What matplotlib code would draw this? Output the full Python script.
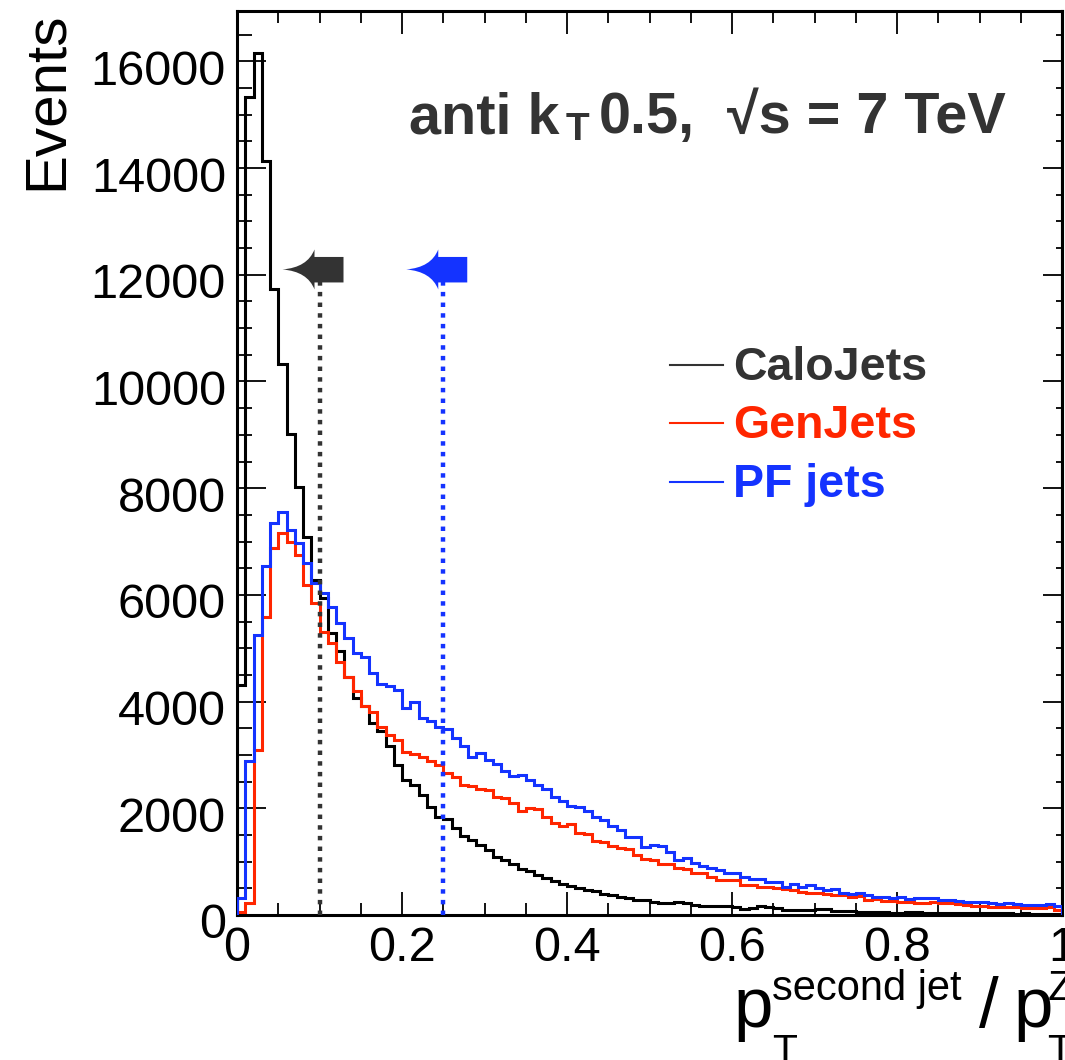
#!/usr/bin/env python3
from __future__ import annotations

import matplotlib

matplotlib.use("Agg")

import matplotlib.pyplot as plt
import numpy as np
from matplotlib.lines import Line2D
from matplotlib.patches import PathPatch
from matplotlib.path import Path
from matplotlib.ticker import MultipleLocator
from matplotlib.transforms import ScaledTranslation

W, H, DPI = 1065, 1060, 100
FONT = ["Liberation Sans", "DejaVu Sans"]

# 100 bins of 0.01 in pT(second jet) / pT(Z)
X_EDGES = np.linspace(0.0, 1.0, 101)

CALO = [
    4310, 15340, 16150, 14130, 11740, 10320, 9010, 8030, 7090, 6280,
    5940, 5290, 4940, 4470, 4060, 3910, 3590, 3440, 3160, 2810,
    2530, 2440, 2250, 2030, 1840, 1800, 1640, 1490, 1400, 1310,
    1210, 1080, 1040, 960, 860, 830, 750, 690, 640, 580,
    540, 500, 460, 450, 390, 375, 330, 310, 280, 290,
    250, 230, 230, 250, 220, 190, 160, 160, 170, 170,
    155, 105, 125, 165, 155, 125, 95, 95, 95, 95,
    105, 105, 80, 80, 80, 65, 65, 65, 60, 45,
    45, 50, 50, 45, 40, 45, 40, 35, 35, 40,
    30, 30, 35, 30, 25, 30, 25, 25, 20, 20,
]
GEN = [
    50, 220, 3090, 5580, 6880, 7160, 7000, 6750, 6190, 5840,
    5310, 5090, 4750, 4470, 4190, 3910, 3810, 3530, 3380, 3280,
    3060, 3020, 2970, 2880, 2810, 2660, 2590, 2430, 2420, 2360,
    2350, 2210, 2200, 2090, 1940, 2000, 1990, 1840, 1720, 1660,
    1710, 1530, 1520, 1380, 1370, 1290, 1250, 1240, 1130, 1050,
    1040, 960, 950, 880, 870, 780, 780, 710, 660, 650,
    650, 570, 560, 530, 520, 515, 480, 470, 440, 410,
    405, 395, 375, 370, 345, 355, 280, 295, 270, 265,
    250, 250, 230, 230, 250, 230, 220, 205, 190, 175,
    175, 155, 145, 155, 145, 140, 135, 135, 155, 95,
]
PF = [
    320, 2880, 5250, 6540, 7340, 7550, 7210, 6970, 6590, 6220,
    6030, 5770, 5480, 5190, 4910, 4840, 4530, 4330, 4290, 4220,
    3880, 4000, 3690, 3630, 3520, 3480, 3320, 3160, 2970, 3040,
    2910, 2830, 2690, 2610, 2620, 2530, 2440, 2360, 2220, 2140,
    2040, 2020, 1940, 1840, 1790, 1660, 1590, 1470, 1460, 1280,
    1310, 1290, 1190, 1040, 1060, 970, 920, 890, 840, 780,
    780, 720, 670, 670, 625, 625, 530, 580, 530, 560,
    500, 470, 480, 420, 395, 420, 375, 345, 330, 315,
    340, 295, 315, 310, 310, 280, 280, 265, 250, 240,
    235, 220, 205, 220, 205, 190, 185, 190, 210, 160,
]

SERIES = ["CaloJets", "GenJets", "PF jets"]
LINE_COLORS = ["#000000", "#ff2600", "#1433ff"]
TEXT_COLORS = ["#333333", "#ff2600", "#1433ff"]

# cut values (CaloJets, PF jets) marked by dotted lines and arrows
CUTS = [0.1, 0.25]
CUT_COLORS = ["#333333", "#1433ff"]
CUT_ARROW_Y = 12100

Y_MAX = 16950
Y_TICKS = list(range(0, 16001, 2000))
X_TICKS = [0, 0.2, 0.4, 0.6, 0.8, 1.0]
X_TICK_LABELS = ["0", "0.2", "0.4", "0.6", "0.8", "1"]


def px(x: float, y: float) -> tuple[float, float]:
    return x / W, 1 - y / H


def main() -> None:
    plt.rcParams["font.family"] = FONT
    plt.rcParams["axes.linewidth"] = 2.2
    fig = plt.figure(figsize=(W / DPI, H / DPI), dpi=DPI)
    left, bottom = px(237, 915)
    ax = fig.add_axes([left, bottom, 825 / W, (915 - 10.7) / H])

    for values, color in zip([CALO, GEN, PF], LINE_COLORS):
        ax.stairs(values, X_EDGES, color=color, lw=2.2, baseline=0, zorder=3)

    for cut, color in zip(CUTS, CUT_COLORS):
        ax.vlines(cut, 0, CUT_ARROW_Y, colors=color, lw=3.2, linestyles=(0, (1, 1.4)), zorder=4)
        cut_arrow(ax, cut, CUT_ARROW_Y, color)

    style_axes(fig, ax)
    draw_texts(fig)
    fig.savefig("out.png", dpi=DPI)


def style_axes(fig: plt.Figure, ax: plt.Axes) -> None:
    ax.set_xlim(0, 1)
    ax.set_ylim(0, Y_MAX)
    ax.set_xticks(X_TICKS, X_TICK_LABELS)
    ax.set_yticks(Y_TICKS, [str(v) for v in Y_TICKS])
    ax.xaxis.set_minor_locator(MultipleLocator(0.05))
    ax.yaxis.set_minor_locator(MultipleLocator(500))
    ax.tick_params(axis="x", which="both", direction="in", top=True, labelsize=35, pad=8, width=1.3)
    ax.tick_params(axis="x", which="major", length=16.8)
    ax.tick_params(axis="x", which="minor", length=8.4)
    ax.tick_params(axis="y", which="both", direction="in", right=False, labelsize=35, pad=8, width=1.3)
    ax.tick_params(axis="y", which="major", length=21)
    ax.tick_params(axis="y", which="minor", length=10.5)

    right = ax.secondary_yaxis("right")
    right.set_yticks(Y_TICKS)
    right.yaxis.set_minor_locator(MultipleLocator(500))
    right.tick_params(which="both", direction="in", labelright=False, width=1.3)
    right.tick_params(which="major", length=13.7)
    right.tick_params(which="minor", length=4.5)
    right.spines["right"].set_linewidth(2.2)

    shift = ScaledTranslation(0, -6 / DPI, fig.dpi_scale_trans)
    for tick in ax.yaxis.get_major_ticks():
        tick.label1.set_transform(tick.label1.get_transform() + shift)


def cut_arrow(ax: plt.Axes, x: float, y: float, color: str) -> None:
    # left pointing head with concave flanks plus a square shaft, sized in pixels
    verts = np.array([
        (-37, 0), (-12, 2), (-5, 20), (-5, 12.5), (24, 12.5),
        (24, -13), (-5, -13), (-5, -20), (-12, -2), (-37, 0), (-37, 0),
    ]) / DPI
    codes = [Path.MOVETO, Path.CURVE3, Path.CURVE3, Path.LINETO, Path.LINETO,
             Path.LINETO, Path.LINETO, Path.LINETO, Path.CURVE3, Path.CURVE3, Path.CLOSEPOLY]
    trans = ax.figure.dpi_scale_trans + ScaledTranslation(x, y, ax.transData)
    ax.add_patch(PathPatch(Path(verts, codes), transform=trans, facecolor=color,
                           edgecolor="none", clip_on=False, zorder=5))


def draw_texts(fig: plt.Figure) -> None:
    fig.text(*px(62, 12), "Events", rotation=90, rotation_mode="anchor",
             ha="right", va="baseline", fontsize=42)

    bold = dict(color="#333333", fontweight="bold", va="baseline")
    fig.text(*px(409, 133), "anti k", fontsize=41.5, **bold)
    fig.text(*px(566, 140), "T", fontsize=28, **bold)
    fig.text(*px(599, 133), "0.5,", fontsize=41.5, **bold)
    fig.text(*px(727, 133), "\u221as = 7 TeV", fontsize=41.5, **bold)

    for i, (name, lcol, tcol) in enumerate(zip(SERIES, LINE_COLORS, TEXT_COLORS)):
        y = 365 + 58.3 * i
        x0, y0 = px(670, y)
        x1, _ = px(723, y)
        fig.add_artist(Line2D([x0, x1], [y0, y0], color=tcol, lw=1.5))
        fig.text(*px(733, y + 15), name, color=tcol, fontsize=33.5, fontweight="bold", va="baseline")

    reg = dict(color="black", va="baseline")
    fig.text(*px(733, 1027), "p", fontsize=51, **reg)
    fig.text(*px(772, 1063), "T", fontsize=29.5, **reg)
    fig.text(*px(772, 1000), "second jet", fontsize=30, **reg)
    fig.text(*px(979, 1027), "/", fontsize=51, **reg)
    fig.text(*px(1013, 1027), "p", fontsize=51, **reg)
    fig.text(*px(1047, 1063), "T", fontsize=29.5, **reg)
    fig.text(*px(1048, 1000), "Z", fontsize=30, **reg)


if __name__ == "__main__":
    main()
